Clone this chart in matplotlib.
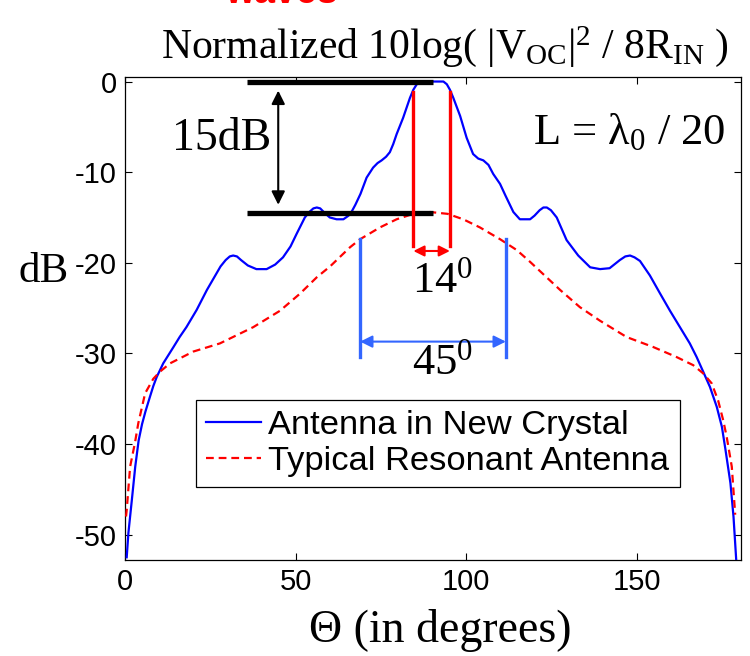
import matplotlib
matplotlib.use("Agg")
import matplotlib.pyplot as plt

plt.rcParams['axes.unicode_minus'] = False
plt.rcParams['mathtext.fontset'] = 'custom'
plt.rcParams['mathtext.rm'] = 'Liberation Serif'
plt.rcParams['mathtext.it'] = 'Liberation Serif:italic'
plt.rcParams['mathtext.bf'] = 'Liberation Serif:bold'

# ---------------- data ----------------
theta_new = [0.5, 1.0, 2.0, 3.0, 4.0, 5.0, 6.0, 7.3, 8.3, 9.3, 11.2, 12.7, 14.2, 16.0, 18.0,
             21.0, 24.0, 26.0, 28.0, 29.5, 30.7, 31.7, 32.8, 34.0, 36.0, 38.5, 41.5, 44.0,
             46.3, 48.5, 50.3, 52.7, 54.0, 55.2, 56.2, 57.2, 58.5, 60.0, 62.0, 64.0, 65.5,
             66.5, 67.5, 69.0, 70.8, 72.7, 74.0, 75.2, 76.5, 77.6, 78.6, 79.6, 81.5, 83.5,
             84.5, 85.5, 86.5, 88.0, 90.0, 92.0, 93.3, 94.3, 95.2, 96.2, 98.2, 100.1, 102.0,
             103.5, 105.0, 106.5, 107.9, 109.9, 111.5, 113.8, 115.7, 118.7, 120.0, 121.5,
             122.6, 123.6, 124.8, 126.5, 129.4, 132.8, 136.3, 139.2, 142.0, 145.0, 146.6,
             148.0, 149.3, 150.9, 153.8, 156.8, 159.7, 162.6, 165.5, 167.5, 169.4, 171.4,
             173.4, 174.9, 175.9, 177.4, 178.3, 179.1]
db_new = [-52.5, -49.8, -46.2, -42.5, -39.6, -37.8, -36.4, -34.8, -33.6, -32.6, -31.1, -30.2,
          -29.3, -28.2, -27.1, -25.2, -23.0, -21.7, -20.4, -19.7, -19.3, -19.2, -19.3, -19.7,
          -20.3, -20.7, -20.7, -20.2, -19.4, -18.2, -16.8, -15.0, -14.4, -14.0, -13.9, -14.0,
          -14.5, -15.0, -15.2, -15.2, -14.8, -14.3, -13.6, -12.4, -10.6, -9.5, -9.0, -8.7,
          -8.3, -7.8, -6.9, -5.8, -4.0, -1.8, -0.9, -0.3, 0.0, 0.0, 0.0, 0.0, 0.0, -0.3, -0.9,
          -1.8, -3.8, -6.2, -8.0, -8.5, -8.7, -9.2, -10.2, -11.3, -12.6, -14.4, -15.2, -15.2,
          -14.8, -14.2, -13.9, -13.9, -14.2, -15.0, -17.5, -19.2, -20.5, -20.7, -20.6, -19.7,
          -19.3, -19.2, -19.4, -19.8, -21.4, -23.4, -25.3, -27.1, -28.9, -30.4, -32.0, -33.7,
          -35.9, -38.1, -40.5, -44.3, -48.0, -52.8]

theta_res = [0.3, 0.5, 1.5, 2.9, 3.9, 5.9, 8.3, 10.3, 13.2, 20.0, 27.8, 37.6, 45.4, 51.3,
             56.2, 60.1, 65.9, 68.9, 74.7, 79.6, 84.5, 89.4, 94.5, 99.1, 104.0, 109.9, 114.8,
             118.7, 127.5, 133.3, 139.2, 147.0, 154.8, 161.6, 166.5, 169.4, 171.9, 173.8,
             175.3, 176.3, 177.8, 178.8]
db_res = [-48.0, -47.3, -42.5, -39.9, -37.7, -34.4, -32.8, -32.0, -31.1, -29.8, -28.9, -27.1,
          -25.3, -23.4, -21.6, -20.4, -18.3, -17.4, -16.1, -15.2, -14.6, -14.4, -14.6, -15.2,
          -16.1, -17.4, -18.6, -19.9, -23.0, -24.9, -26.4, -28.2, -29.3, -30.4, -31.3, -32.2,
          -33.3, -35.2, -37.4, -39.2, -42.5, -47.8]

series_labels = ['Antenna in New Crystal', 'Typical Resonant Antenna']
x_ticks = [0, 50, 100, 150]
y_ticks = [-50, -40, -30, -20, -10, 0]

# annotation values (degrees / dB)
bar15_x = [35.7, 90.2]
bar15_y = [0.0, -14.5]
arrow15_x = 44.9
arrow15_y = [-1.0, -13.6]
red_beam_x = [84.5, 95.2]
red_beam_y = [-1.2, -18.2]
red_arrow_y = -18.7
blue_beam_x = [68.9, 111.6]
blue_beam_y = [-17.4, -30.4]
blue_arrow_y = -28.7

# ---------------- figure ----------------
fig = plt.figure(figsize=(7.5, 6.56), dpi=100)
ax = fig.add_axes([125/750, 1-560/656, (741-125)/750, (560-77)/656])

ax.plot(theta_new, db_new, color='#0000FF', lw=1.6, zorder=3, label=series_labels[0],
        solid_joinstyle='round')
ax.plot(theta_res, db_res, color='#FF0000', lw=1.6, ls=(0, (3.5, 2.2)), zorder=3,
        label=series_labels[1])

ax.set_xlim(0, 180.5)
ax.set_ylim(-52.8, 0.5)
ax.set_xticks(x_ticks)
ax.set_yticks(y_ticks)
ax.tick_params(direction='in', top=True, right=True, length=5, width=0.8,
               labelsize=21, pad=6)
for lab in ax.get_xticklabels() + ax.get_yticklabels():
    lab.set_fontfamily('Liberation Sans')
for s in ax.spines.values():
    s.set_linewidth(0.9)

# 15 dB annotation
for yv in bar15_y:
    ax.plot(bar15_x, [yv, yv], color='black', lw=3.8, solid_capstyle='butt', zorder=4)
ax.annotate('', xy=(arrow15_x, arrow15_y[0]), xytext=(arrow15_x, arrow15_y[1]),
            arrowprops=dict(arrowstyle='<|-|>', color='black', lw=1.5, mutation_scale=20,
                            shrinkA=0, shrinkB=0))
ax.text(43.0, -6.3, '15dB', fontsize=33, family='Liberation Serif', ha='right', va='center')

# 14 deg beamwidth
for xv in red_beam_x:
    ax.plot([xv, xv], red_beam_y, color='#FF0000', lw=2.4, zorder=5)
ax.annotate('', xy=(red_beam_x[0], red_arrow_y), xytext=(red_beam_x[1], red_arrow_y),
            arrowprops=dict(arrowstyle='<|-|>', color='#FF0000', lw=1.5, mutation_scale=16,
                            shrinkA=0, shrinkB=0))
ax.text(93.0, -23.3, '14$^{0}$', fontsize=32, family='Liberation Serif', ha='center',
        va='baseline')

# 45 deg beamwidth
for xv in blue_beam_x:
    ax.plot([xv, xv], blue_beam_y, color='#3366FF', lw=2.4, zorder=5)
ax.annotate('', xy=(blue_beam_x[0], blue_arrow_y), xytext=(blue_beam_x[1], blue_arrow_y),
            arrowprops=dict(arrowstyle='<|-|>', color='#3366FF', lw=1.5, mutation_scale=18,
                            shrinkA=0, shrinkB=0))
ax.text(93.0, -32.3, '45$^{0}$', fontsize=32, family='Liberation Serif', ha='center',
        va='baseline')

ax.text(0.975, 0.885, r'L = λ$_{0}$ / 20', transform=ax.transAxes, fontsize=32,
        family='Liberation Serif', ha='right', va='center')

# legend
leg = ax.legend(loc='upper left', bbox_to_anchor=(196/750, 1-400/656),
                bbox_transform=fig.transFigure, borderaxespad=0, fancybox=False,
                framealpha=1, edgecolor='black',
                prop={'family': 'Liberation Sans', 'size': 24.8},
                handlelength=1.6, handletextpad=0.2, labelspacing=0.12, borderpad=0.3)
leg.get_frame().set_linewidth(0.9)

# titles / labels
title_str = r'Normalized 10log( |V$_{\mathrm{OC}}$|$^{2}$ / 8R$_{\mathrm{IN}}$ )'
fig.text(445/750, 1-58/656, title_str,
         fontsize=30, family='Liberation Serif', ha='center', va='baseline')
fig.text(281/750, 1-3/656, 'waves', fontsize=27, family='Liberation Sans', weight='bold',
         color='#FF0000', ha='center', va='baseline')
fig.text(44/750, 1-272/656, 'dB', fontsize=31, family='Liberation Serif', ha='center',
         va='center')
fig.text(440/750, 1-630/656, 'Θ (in degrees)', fontsize=33, family='Liberation Serif',
         ha='center', va='center')

fig.savefig('out.png', dpi=100)
